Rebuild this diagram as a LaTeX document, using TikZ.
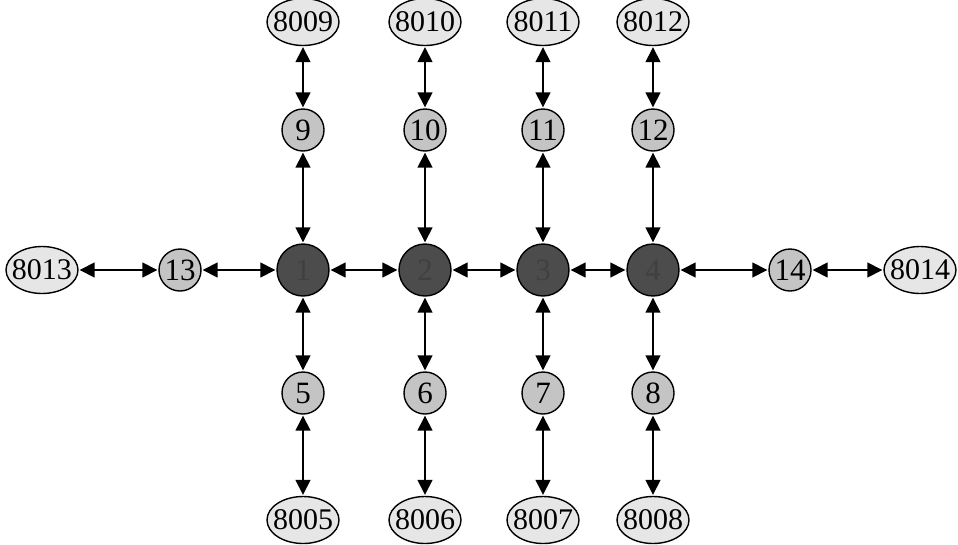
\documentclass[tikz,border=0pt]{standalone}
\usepackage{fontspec}
\setmainfont{Liberation Serif}
\usetikzlibrary{arrows.meta,shapes.geometric}
\definecolor{ellfill}{HTML}{E6E6E6}
\definecolor{smallfill}{HTML}{C4C4C4}
\definecolor{bigfill}{HTML}{4C4C4C}
\tikzset{
  ell/.style={ellipse,draw=black,line width=1.4pt,fill=ellfill,minimum width=72pt,minimum height=47pt,inner xsep=-6pt,inner ysep=4pt,font=\fontsize{30}{30}\selectfont},
  small/.style={circle,draw=black,line width=1.4pt,fill=smallfill,minimum size=42pt,inner sep=0pt,font=\fontsize{31}{31}\selectfont},
  big/.style={circle,draw=black,line width=1.4pt,fill=bigfill,minimum size=52pt,inner sep=0pt,font=\fontsize{31}{31}\selectfont,text=black!75},
  link/.style={{Triangle[length=15pt,width=15pt]}-{Triangle[length=15pt,width=15pt]},line width=1.5pt,shorten <=1pt,shorten >=1pt}
}
\begin{document}
\begin{tikzpicture}[x=1pt,y=-1pt]
\useasboundingbox (0,0) rectangle (958,544);
% central row
\node[ell] (e13) at (42,270) {8013};
\node[small] (n13) at (180,270) {13};
\node[big] (n1) at (303,270) {1};
\node[big] (n2) at (425,270) {2};
\node[big] (n3) at (543,270) {3};
\node[big] (n4) at (653,270) {4};
\node[small] (n14) at (790,270) {14};
\node[ell] (e14) at (920,270) {8014};
% top
\node[ell] (e9) at (303,22) {8009};
\node[ell] (e10) at (425,22) {8010};
\node[ell] (e11) at (543,22) {8011};
\node[ell] (e12) at (653,22) {8012};
\node[small] (n9) at (303,130) {9};
\node[small] (n10) at (425,130) {10};
\node[small] (n11) at (543,130) {11};
\node[small] (n12) at (653,130) {12};
% bottom
\node[small] (n5) at (303,393) {5};
\node[small] (n6) at (425,393) {6};
\node[small] (n7) at (543,393) {7};
\node[small] (n8) at (653,393) {8};
\node[ell] (e5) at (303,520) {8005};
\node[ell] (e6) at (425,520) {8006};
\node[ell] (e7) at (543,520) {8007};
\node[ell] (e8) at (653,520) {8008};
% links
\draw[link] (e13) -- (n13);
\draw[link] (n13) -- (n1);
\draw[link] (n1) -- (n2);
\draw[link] (n2) -- (n3);
\draw[link] (n3) -- (n4);
\draw[link] (n4) -- (n14);
\draw[link] (n14) -- (e14);
\foreach \a/\b/\c/\d/\e in {e9/n9/n1/n5/e5, e10/n10/n2/n6/e6, e11/n11/n3/n7/e7, e12/n12/n4/n8/e8}{
  \draw[link] (\a) -- (\b);
  \draw[link] (\b) -- (\c);
  \draw[link] (\c) -- (\d);
  \draw[link] (\d) -- (\e);
}
\end{tikzpicture}
\end{document}
